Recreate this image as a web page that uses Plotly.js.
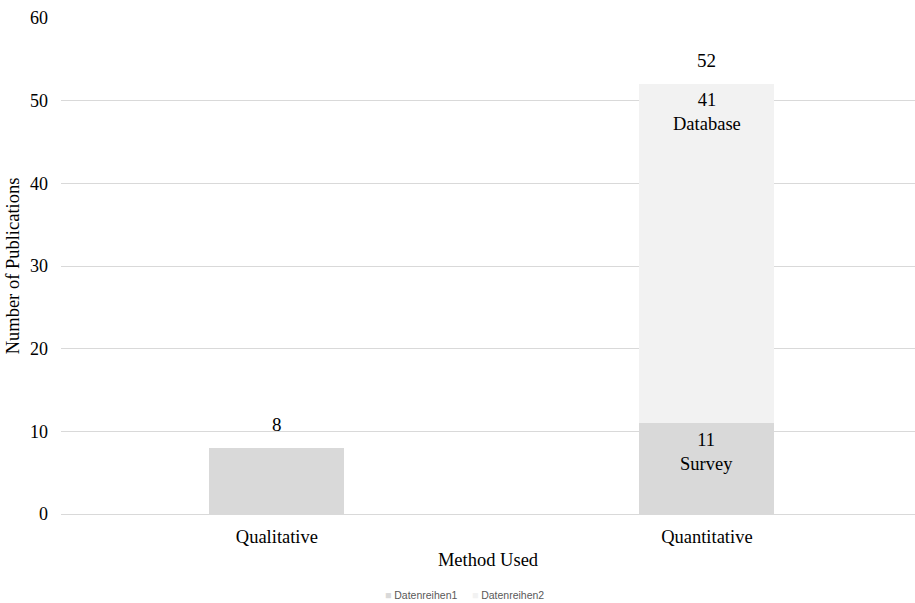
<!DOCTYPE html>
<html>
<head>
<meta charset="utf-8">
<script src="https://cdn.plot.ly/plotly-3.0.1.min.js"></script>
<style>
  html, body { margin: 0; padding: 0; background: #fff; }
  #chart { width: 915px; height: 603px; }
</style>
</head>
<body>
<div id="chart"></div>
<script>
// Publication counts by research method
const categories = ['Qualitative', 'Quantitative'];
const series1 = [8, 11];        // Datenreihen1
const series2 = [null, 41];     // Datenreihen2
const series1Labels = ['', 'Survey'];
const series2Labels = ['', 'Database'];
const seriesNames = ['Datenreihen1', 'Datenreihen2'];
const seriesColors = ['#d9d9d9', '#f2f2f2'];
const yTicks = [0, 10, 20, 30, 40, 50, 60];

const serif = '"Liberation Serif", "Times New Roman", serif';
const sans = '"Liberation Sans", Arial, sans-serif';

const traces = [
  {
    type: 'bar', name: seriesNames[0], x: categories, y: series1, width: 0.314,
    marker: { color: seriesColors[0] }, hoverinfo: 'x+y', showlegend: false
  },
  {
    type: 'bar', name: seriesNames[1], x: categories, y: series2, width: 0.314,
    marker: { color: seriesColors[1] }, hoverinfo: 'x+y', showlegend: false
  }
];

const annotations = [];
categories.forEach((c, i) => {
  const a = series1[i] || 0;
  const b = series2[i] || 0;
  const total = a + b;
  // total above each stack
  annotations.push({
    x: c, y: total, xref: 'x', yref: 'y', text: String(total),
    showarrow: false, yanchor: 'bottom', yshift: 11,
    font: { family: serif, size: 19, color: '#000' }
  });
  // segment labels inside, near the top of each segment (only when stacked)
  if (b) {
    annotations.push({
      x: c, y: a, xref: 'x', yref: 'y',
      text: a + '<br>' + series1Labels[i],
      showarrow: false, yanchor: 'top', yshift: -5,
      font: { family: serif, size: 18.5, color: '#000' }
    });
    annotations.push({
      x: c, y: total, xref: 'x', yref: 'y',
      text: b + '<br>' + series2Labels[i],
      showarrow: false, yanchor: 'top', yshift: -4,
      font: { family: serif, size: 18.5, color: '#000' }
    });
  }
});

// legend row along the bottom edge
const legendText = seriesNames.map((n, i) =>
  '<span style="color:' + seriesColors[i] + '">■</span> ' + n
).join('&nbsp;&nbsp;&nbsp;&nbsp;&nbsp;');
annotations.push({
  xref: 'paper', yref: 'paper', x: (464 - 61) / 854, y: -0.164,
  xanchor: 'center', yanchor: 'middle', showarrow: false,
  text: legendText,
  font: { family: sans, size: 10.5, color: '#595959' }
});

const layout = {
  width: 915, height: 603,
  margin: { l: 61, r: 0, t: 18, b: 89 },
  paper_bgcolor: '#fff', plot_bgcolor: '#fff',
  barmode: 'stack',
  font: { family: serif, size: 18, color: '#000' },
  xaxis: {
    title: { text: 'Method Used', font: { family: serif, size: 18.5, color: '#000' }, standoff: 6 },
    tickfont: { family: serif, size: 18.5, color: '#000' },
    range: [-0.502, 1.484],
    showline: true, linecolor: '#d9d9d9', linewidth: 1,
    ticks: '', showgrid: false, ticklabelstandoff: 6
  },
  yaxis: {
    title: { text: 'Number of Publications', font: { family: serif, size: 18.5, color: '#000' }, standoff: 5 },
    range: [0, 60], tickvals: yTicks, ticktext: yTicks.map(String),
    tickfont: { family: serif, size: 18, color: '#000' },
    showgrid: true, gridcolor: '#d9d9d9', gridwidth: 1,
    zeroline: false, showline: false, ticks: '', ticklen: 0,
    ticklabelstandoff: 12
  },
  showlegend: false,
  annotations: annotations
};

Plotly.newPlot('chart', traces, layout, { displayModeBar: false, staticPlot: true });
</script>
</body>
</html>
